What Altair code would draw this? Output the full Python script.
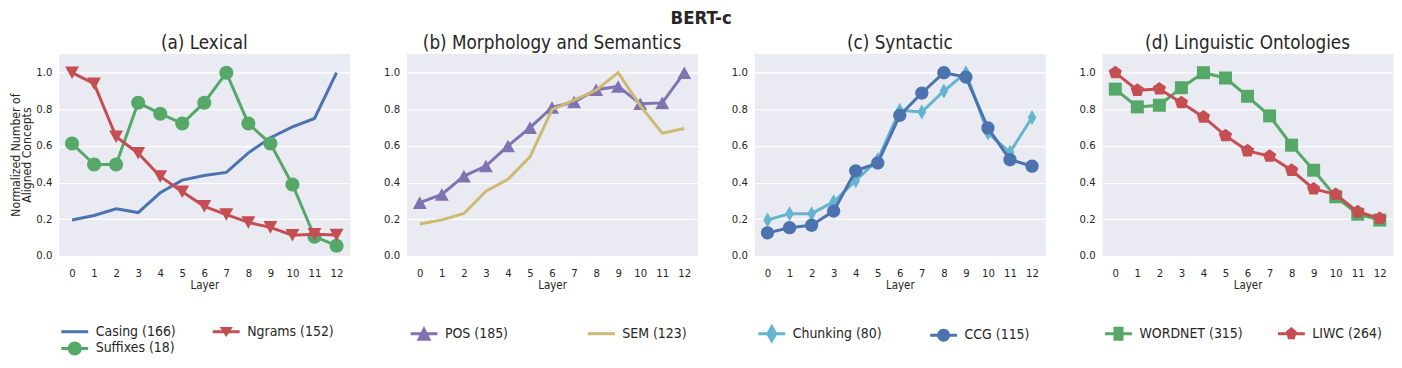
import altair as alt
import pandas as pd
import math

FONT = "DejaVu Sans Condensed, DejaVu Sans, sans-serif"
TEXT = "#262626"

layer_ids = list(range(13))

casing = [0.195, 0.22, 0.256, 0.236, 0.344, 0.413, 0.438, 0.455, 0.562, 0.645, 0.704, 0.75, 1.0]
suffixes = [0.613, 0.498, 0.498, 0.836, 0.776, 0.722, 0.836, 1.0, 0.722, 0.613, 0.389, 0.104, 0.055]
ngrams = [1.0, 0.94, 0.65, 0.56, 0.433, 0.35, 0.27, 0.225, 0.182, 0.155, 0.112, 0.117, 0.113]
pos = [0.29, 0.335, 0.435, 0.49, 0.6, 0.7, 0.81, 0.84, 0.907, 0.925, 0.83, 0.835, 1.0]
sem = [0.173, 0.196, 0.231, 0.353, 0.418, 0.54, 0.798, 0.85, 0.904, 1.0, 0.82, 0.67, 0.695]
chunking = [0.195, 0.23, 0.23, 0.295, 0.41, 0.525, 0.795, 0.785, 0.9, 1.0, 0.67, 0.565, 0.755]
ccg = [0.125, 0.153, 0.167, 0.244, 0.464, 0.507, 0.767, 0.889, 1.0, 0.976, 0.698, 0.525, 0.489]
wordnet = [0.91, 0.813, 0.822, 0.918, 1.0, 0.971, 0.871, 0.764, 0.604, 0.467, 0.322, 0.227, 0.195]
liwc = [1.0, 0.904, 0.911, 0.836, 0.758, 0.656, 0.573, 0.544, 0.467, 0.365, 0.335, 0.24, 0.204]

panel_titles = ["(a) Lexical", "(b) Morphology and Semantics", "(c) Syntactic", "(d) Linguistic Ontologies"]

# (label, values, colour, marker) ; draw order = list order
panel_series = [
    [("Casing (166)", casing, "#4C72B0", None),
     ("Suffixes (18)", suffixes, "#55A868", "circle"),
     ("Ngrams (152)", ngrams, "#C44E52", "tri_down")],
    [("POS (185)", pos, "#8172B2", "tri_up"),
     ("SEM (123)", sem, "#CCB974", None)],
    [("Chunking (80)", chunking, "#64B5CD", "thin_diamond"),
     ("CCG (115)", ccg, "#4C72B0", "circle_s")],
    [("WORDNET (315)", wordnet, "#55A868", "square"),
     ("LIWC (264)", liwc, "#C44E52", "pentagon")],
]
# legend entry order (row-major, 2 columns)
legend_order = [
    ["Casing (166)", "Ngrams (152)", "Suffixes (18)"],
    ["POS (185)", "SEM (123)"],
    ["Chunking (80)", "CCG (115)"],
    ["WORDNET (315)", "LIWC (264)"],
]


def poly(pts):
    return "M" + "L".join(f"{x:.3f},{y:.3f}" for x, y in pts) + "Z"


def circ(r):
    return f"M{-r},0A{r},{r} 0 1,1 {r},0A{r},{r} 0 1,1 {-r},0Z"


def penta(rx, ry):
    pts = []
    for k in range(5):
        a = math.radians(-90 + 72 * k)
        pts.append((rx * math.cos(a), ry * math.sin(a)))
    return poly(pts)


# plot marker shapes (unit = 7 px at size 196)
MARK = {
    "circle": circ(1),
    "circle_s": circ(0.95),
    "tri_down": poly([(-1, -0.9), (1, -0.9), (0, 0.9)]),
    "tri_up": poly([(0, -0.9), (1, 0.9), (-1, 0.9)]),
    "thin_diamond": poly([(0, -1.07), (0.62, 0), (0, 1.07), (-0.62, 0)]),
    "square": poly([(-0.93, -0.93), (0.93, -0.93), (0.93, 0.93), (-0.93, 0.93)]),
    "pentagon": penta(1.0, 1.0),
}

# legend glyphs (unit = 9.5 px at size 361)
LINE = "M-1.42,-0.158H1.42V0.158H-1.42Z"
LEG = {
    None: LINE,
    "circle": LINE + circ(0.74),
    "circle_s": LINE + circ(0.68),
    "tri_down": LINE + poly([(-0.7, -0.5), (0.7, -0.5), (0, 0.55)]),
    "tri_up": LINE + poly([(0, -0.8), (0.78, 0.75), (-0.78, 0.75)]),
    "thin_diamond": LINE + poly([(0, -1.05), (0.6, 0), (0, 1.05), (-0.6, 0)]),
    "square": LINE + poly([(-0.53, -0.74), (0.53, -0.74), (0.53, 0.74), (-0.53, 0.74)]),
    "pentagon": LINE + penta(0.6, 0.72),
}

legend_pos = [(6.5, 269.5), (8, 271.5), (8, 271.5), (7, 271.5)]
legend_colpad = [37, 80, 48.5, 34.5]

charts = []
for pi in range(4):
    series = panel_series[pi]
    rows = []
    for name, vals, col, mk in series:
        for x, v in zip(layer_ids, vals):
            rows.append({"layer": x, "value": v, "series": name})
    df = pd.DataFrame(rows)

    names = legend_order[pi]
    cmap = {s[0]: s[2] for s in series}
    mmap = {s[0]: s[3] for s in series}
    shape_expr = "{" + ",".join(f"'{n}':'{LEG[mmap[n]]}'" for n in names) + "}[datum.value]"
    fill_expr = "{" + ",".join(f"'{n}':'{cmap[n]}'" for n in names) + "}[datum.value]"

    legend = alt.Legend(
        orient="none", legendX=legend_pos[pi][0], legendY=legend_pos[pi][1],
        direction="horizontal", columns=2, columnPadding=legend_colpad[pi], rowPadding=0,
        symbolSize=361, symbolStrokeWidth=0, labelOffset=11.5, labelFontSize=14,
        labelFont=FONT, labelColor=TEXT, title=None, padding=0,
        symbolType={"expr": shape_expr}, symbolFillColor={"expr": fill_expr},
        symbolOpacity=1,
    )
    scale_c = alt.Scale(domain=names, range=[cmap[n] for n in names])
    color = alt.Color("series:N", scale=scale_c, legend=legend)

    xenc = alt.X("layer:Q", scale=alt.Scale(domain=[-0.6, 12.6], nice=False, zero=False),
                 axis=alt.Axis(values=layer_ids, format="d", title="Layer", grid=False,
                               labelPadding=12, titlePadding=1, labelFlush=False))
    yaxis = dict(values=[0, 0.2, 0.4, 0.6, 0.8, 1.0], format=".1f", labelPadding=7,
                 gridColor="white", gridWidth=1.2)
    if pi == 0:
        yaxis["title"] = ["Normalized Number of", "Aligned Concepts"]
        yaxis["titlePadding"] = 2
        yaxis["titleLineHeight"] = 11.5
        yaxis["titleFontSize"] = 12.2
    else:
        yaxis["title"] = ""
    yenc = alt.Y("value:Q", scale=alt.Scale(domain=[0, 1.105], nice=False), axis=alt.Axis(**yaxis))

    lays = []
    for name, vals, col, mk in series:
        base = alt.Chart(df).transform_filter(alt.datum.series == name)
        lays.append(base.mark_line(strokeWidth=3).encode(x=xenc, y=yenc, color=color))
        if mk is not None:
            lays.append(base.mark_point(filled=True, size=196, opacity=1, strokeWidth=0,
                                        shape=MARK[mk]).encode(x=xenc, y=yenc, color=color))
    ch = alt.layer(*lays).properties(
        width=292, height=203,
        title=alt.TitleParams(panel_titles[pi], fontSize=18.8, font=FONT, fontWeight="normal",
                              color=TEXT, offset=1, anchor="middle"))
    charts.append(ch)

chart = alt.hconcat(
    *charts, spacing=57, bounds="flush",
    title=alt.TitleParams("BERT-c", fontSize=18.5, font=FONT, fontWeight="bold", color=TEXT,
                          anchor="middle", offset=6),
).resolve_scale(color="independent").properties(
    padding={"left": 0, "top": 0, "right": 0, "bottom": 0}
).configure_view(fill="#EAEAF2", stroke="transparent").configure_axis(
    domain=False, ticks=False, tickSize=0, labelFont=FONT, labelFontSize=11.3, labelColor=TEXT,
    titleFont=FONT, titleFontSize=11.5, titleFontWeight="normal", titleColor=TEXT,
)

chart.save("out.html", embed_options={"renderer": "svg", "actions": False})
